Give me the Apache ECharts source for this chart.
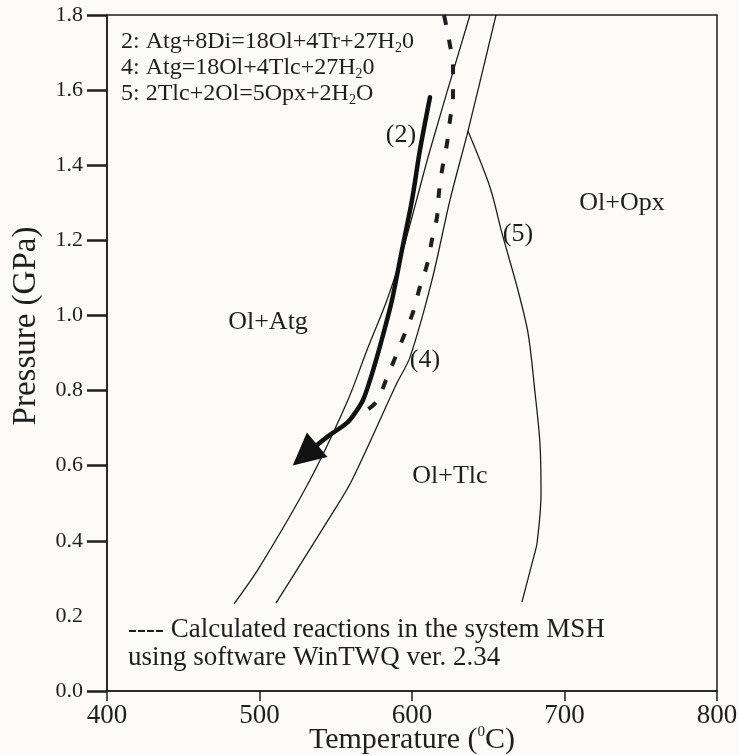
<!DOCTYPE html>
<html>
<head>
<meta charset="utf-8">
<script src="https://cdn.jsdelivr.net/npm/echarts@6/dist/echarts.min.js"></script>
<style>
html,body{margin:0;padding:0;background:#fcfbf9;}
#main{width:739px;height:755px;}
</style>
</head>
<body>
<div id="main"></div>
<script>
// reaction curves, each point [T (oC), P (GPa)]
var rxn2 = [[638,1.8],[611.8,1.44],[594.1,1.174],[583.6,1.041],[570.5,0.908],[558,0.775],[533.1,0.562],[500,0.33],[483.3,0.232]];
var rxn4 = [[655.1,1.8],[636.7,1.491],[624.9,1.307],[613.1,1.094],[598.7,0.889],[589.5,0.815],[560.7,0.562],[546.2,0.463],[510.8,0.234]];
var rxn5 = [[636.7,1.491],[651.1,1.342],[659,1.219],[668.9,1.076],[676.1,0.953],[680.7,0.793],[683.9,0.66],[684.6,0.527],[682,0.394],[679.3,0.349],[672.1,0.237]];
// calculated reaction (WinTWQ), dashed
var calc = [[621,1.8],[624.3,1.733],[626.9,1.661],[626.9,1.581],[624.9,1.52],[623,1.459],[619.7,1.387],[617.7,1.328],[616.4,1.262],[613.1,1.201],[609.8,1.134],[605.2,1.076],[600.7,1.009],[595.4,0.953],[588.9,0.887],[583,0.828],[576.4,0.769],[563.9,0.729]];
// P-T path with arrow
var ptPath = [[611.8,1.581],[605.2,1.44],[600,1.307],[593.4,1.174],[586.9,1.041],[581,0.948],[577,0.889],[572.5,0.828],[567.9,0.775],[562.6,0.74],[557.4,0.714],[546.2,0.682],[537.7,0.655]];
var arrowEnd = [[537.7,0.655],[529.8,0.628]];
// field and curve labels [text, T, P]
var fieldLabels = [['Ol+Atg',505.6,0.982],['Ol+Tlc',624.9,0.572],['Ol+Opx',737.7,1.299],['(2)',592.8,1.48],['(4)',608.5,0.881],['(5)',669.5,1.217]];
var yTickValues = [0,0.4,0.6,0.8,1.0,1.2,1.4,1.6,1.8];

var serif = '"Liberation Serif", "Times New Roman", serif';
var ink = '#1e1e1e';

var myChart = echarts.init(document.getElementById('main'));

function thin(name, data){
  return {
    name: name, type: 'line', data: data, smooth: 0.3,
    symbol: 'none', lineStyle: {color: ink, width: 1.3}, silent: true
  };
}

var option = {
  backgroundColor: '#fcfbf9',
  animation: false,
  grid: {left: 107, right: 22, top: 15, bottom: 64, outerBoundsMode: 'none', containLabel: false,
    show: true, borderColor: ink, borderWidth: 1.5},
  xAxis: {
    type: 'value', min: 400, max: 800, interval: 100,
    axisLine: {lineStyle: {color: ink, width: 1.5}},
    axisTick: {length: 10, lineStyle: {color: ink, width: 1.5}},
    axisLabel: {fontFamily: serif, fontSize: 27, color: ink, margin: 11},
    splitLine: {show: false}
  },
  yAxis: {
    type: 'value', min: 0, max: 1.8, interval: 0.2,
    axisLine: {show: true, lineStyle: {color: ink, width: 1.5}},
    axisTick: {length: 20, customValues: yTickValues, lineStyle: {color: ink, width: 2.5}},
    axisLabel: {fontFamily: serif, fontSize: 22, color: ink, margin: 24, formatter: function(v){ return v.toFixed(1); }},
    splitLine: {show: false}
  },
  graphic: [
    {
      // axis titles drawn as text so they sit where the figure has them
      type: 'text', x: 412, y: 740,
      style: {
        text: 'Temperature ({sup|0}C)', fontFamily: serif, fontSize: 30, fill: ink,
        align: 'center', verticalAlign: 'middle',
        rich: {sup: {fontSize: 15, verticalAlign: 'top', fontFamily: serif, fill: ink}}
      }
    },
    {
      type: 'text', x: 26, y: 326, rotation: Math.PI / 2,
      style: {text: 'Pressure (GPa)', fontFamily: serif, fontSize: 33, fill: ink, align: 'center', verticalAlign: 'middle'}
    },
    {
      type: 'text', left: 121, top: 29,
      style: {
        text: '2: Atg+8Di=18Ol+4Tr+27H{sub|2}0\n4: Atg=18Ol+4Tlc+27H{sub|2}0\n5: 2Tlc+2Ol=5Opx+2H{sub|2}O',
        fontFamily: serif, fontSize: 24, lineHeight: 26, fill: ink,
        rich: {sub: {fontSize: 14, verticalAlign: 'bottom', fontFamily: serif, fill: ink}}
      }
    },
    {
      type: 'text', left: 128, top: 616,
      style: {
        text: '---- Calculated reactions in the system MSH\nusing software WinTWQ ver. 2.34',
        fontFamily: serif, fontSize: 27, lineHeight: 28, fill: ink
      }
    }
  ],
  series: [
    thin('(2)', rxn2),
    thin('(4)', rxn4),
    thin('(5)', rxn5),
    {
      name: 'calc', type: 'line', data: calc, smooth: 0.3, symbol: 'none', silent: true,
      lineStyle: {color: ink, width: 4, type: [10, 15]}
    },
    {
      name: 'path', type: 'line', data: ptPath, smooth: 0.3, symbol: 'none', silent: true,
      lineStyle: {color: '#111', width: 4.5, cap: 'round', join: 'round'}
    },
    {
      name: 'arrow', type: 'lines', coordinateSystem: 'cartesian2d', silent: true,
      symbol: ['none', 'triangle'], symbolSize: [26, 32],
      lineStyle: {color: '#111', width: 4.5, opacity: 1},
      data: [{coords: arrowEnd}]
    },
    {
      name: 'labels', type: 'scatter', symbolSize: 1, silent: true,
      itemStyle: {color: 'transparent', opacity: 1},
      label: {show: true, position: 'inside', formatter: '{b}', fontFamily: serif, fontSize: 26, color: ink, opacity: 1},
      data: fieldLabels.map(function(d){ return {name: d[0], value: [d[1], d[2]]}; })
    }
  ]
};

myChart.setOption(option);
</script>
</body>
</html>
